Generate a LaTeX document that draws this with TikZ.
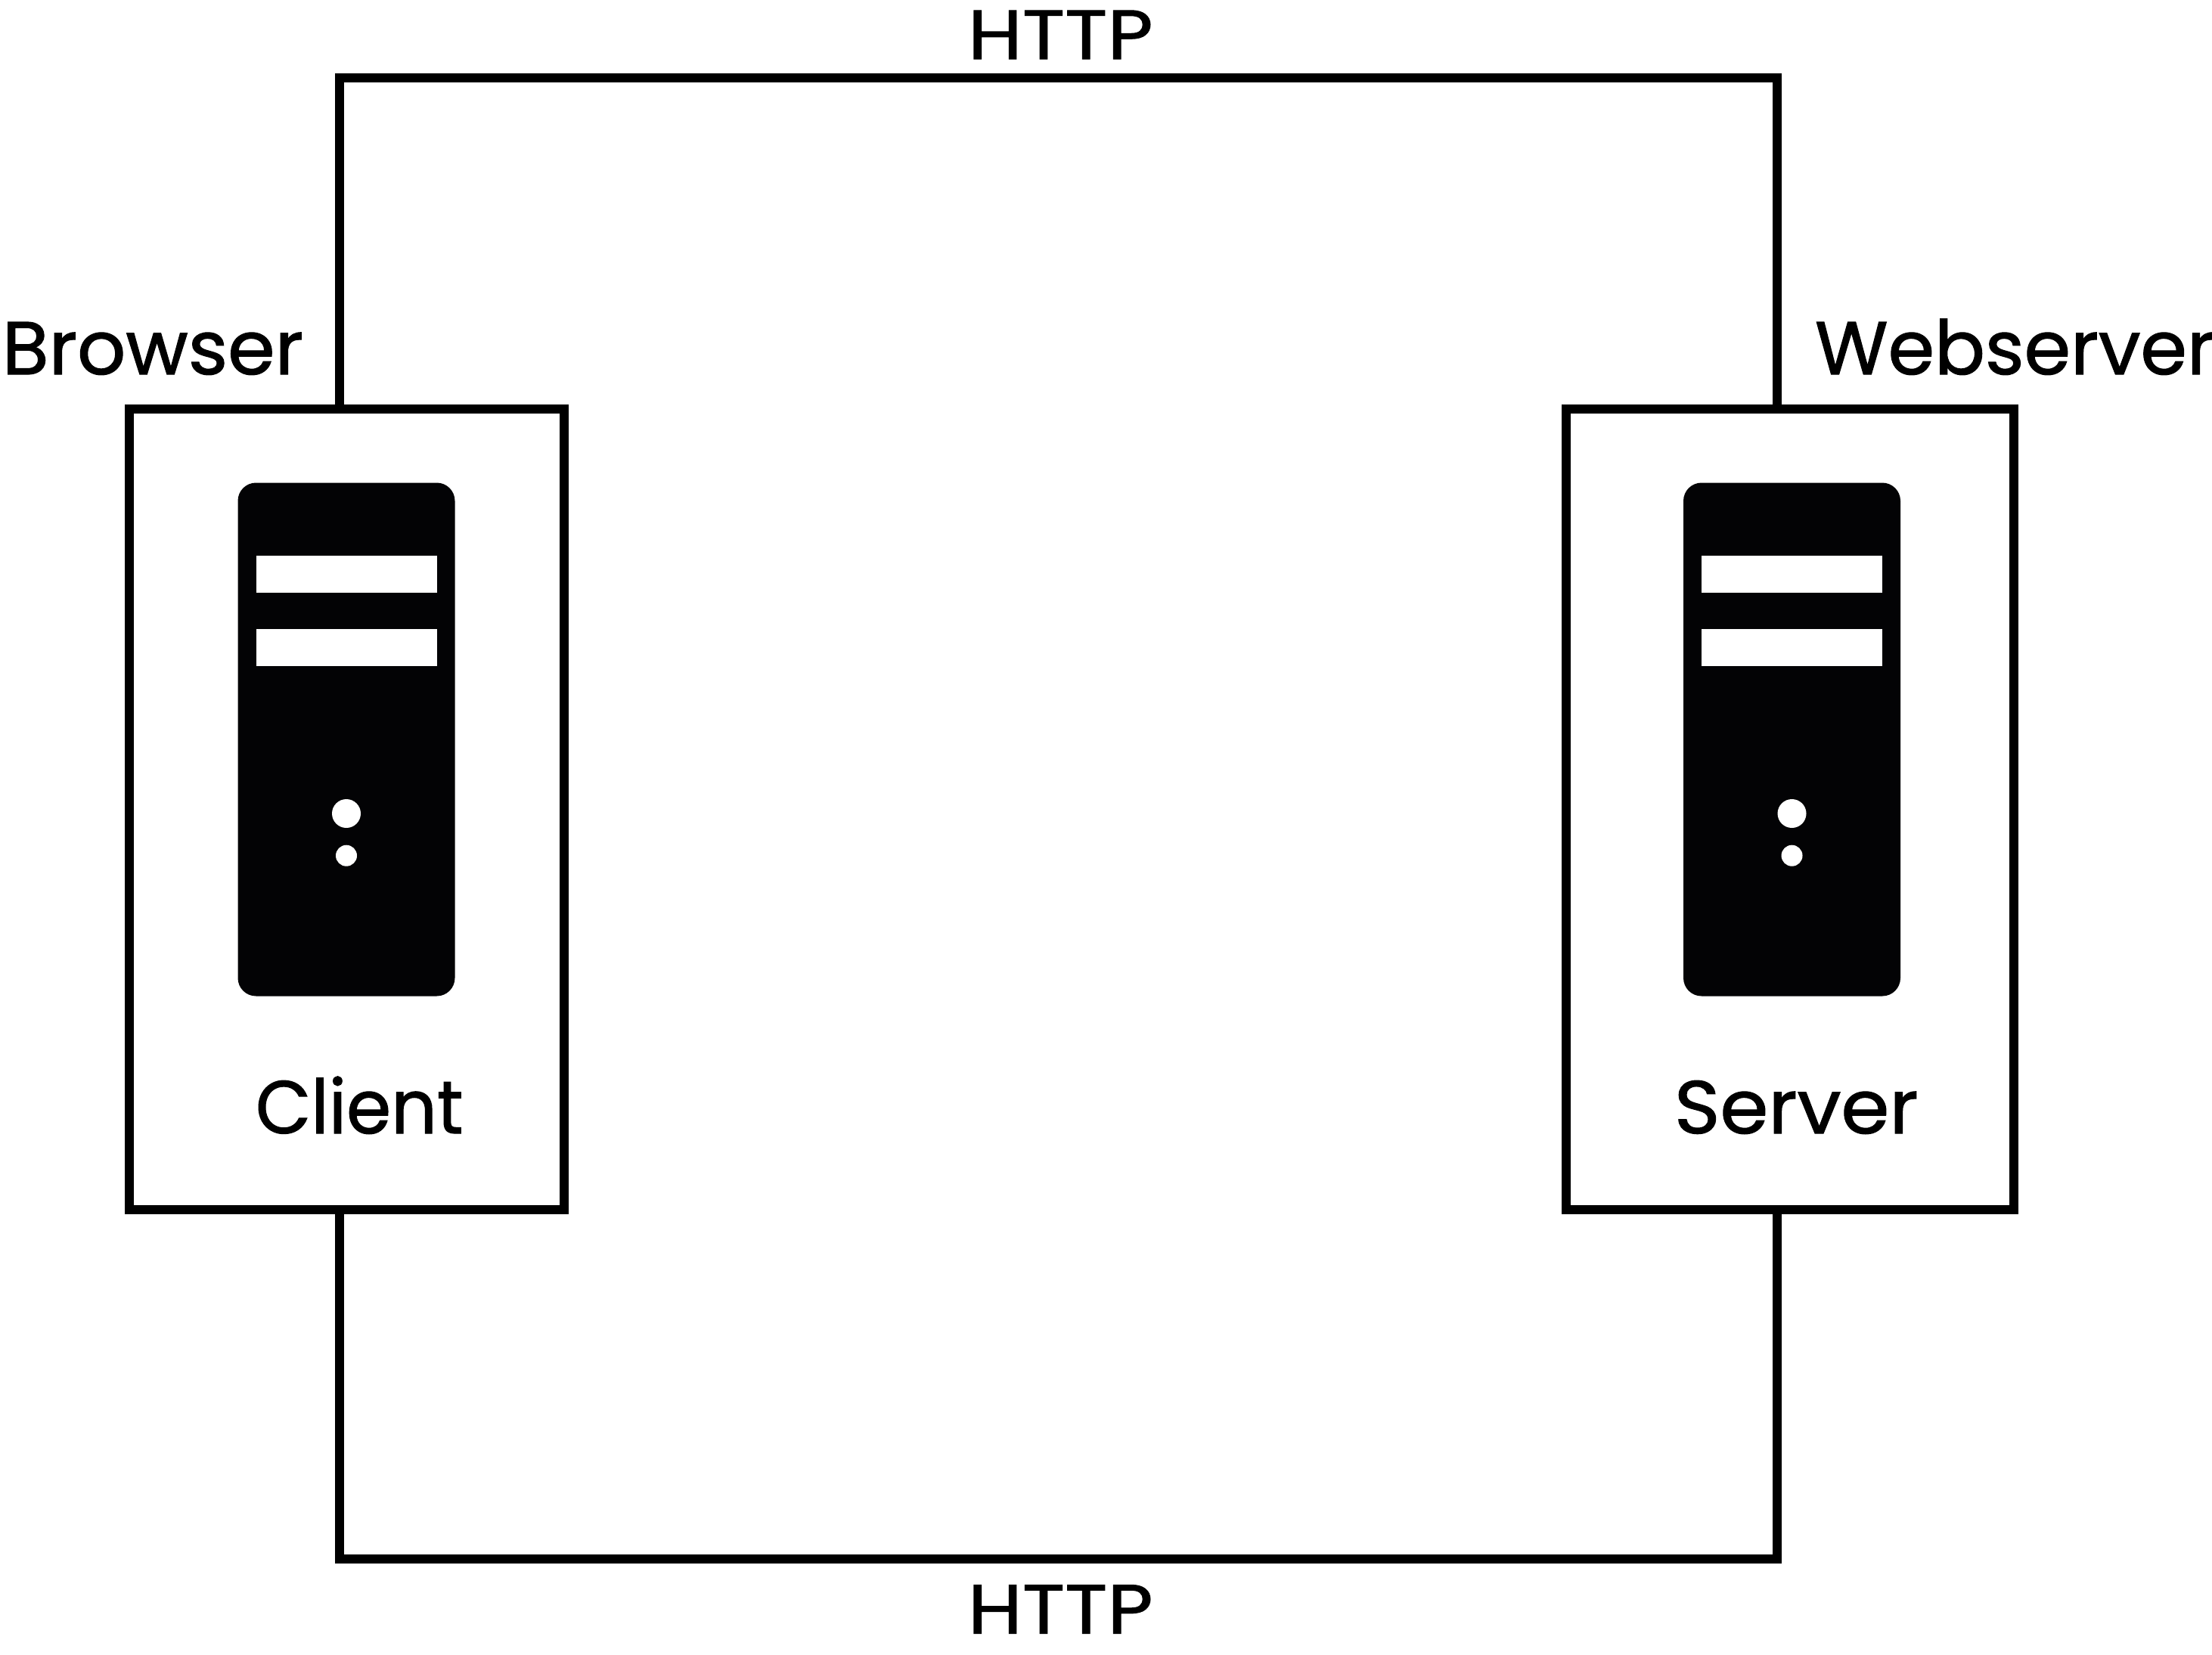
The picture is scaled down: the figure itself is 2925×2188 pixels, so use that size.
\documentclass[tikz,border=0pt]{standalone}
\usepackage{fontspec}
\usepackage{graphicx}
\setmainfont{Poppins}[FakeBold=1.2]
\definecolor{ink}{HTML}{030305}
\newcommand{\lab}[2]{\scalebox{#1}[1]{#2}}
\tikzset{
  wire/.style={line width=12pt,black,line cap=rect},
  hostbox/.style={draw=black,line width=12.5pt,rectangle,inner sep=0pt,outer sep=0pt,minimum width=#1,minimum height=1059pt},
  tower/.style={fill=ink,rectangle,rounded corners=24pt,inner sep=0pt,outer sep=0pt,minimum width=287pt,minimum height=679pt},
  bar/.style={fill=white,rectangle,inner sep=0pt,outer sep=0pt,minimum width=239pt,minimum height=48.5pt},
  bigdot/.style={fill=white,circle,inner sep=0pt,outer sep=0pt,minimum size=38pt},
  smalldot/.style={fill=white,circle,inner sep=0pt,outer sep=0pt,minimum size=28pt},
  txt/.style={inner sep=0pt,outer sep=0pt,anchor=base west,text=black,font=\fontsize{92}{100}\selectfont},
  txtb/.style={inner sep=0pt,outer sep=0pt,anchor=base west,text=black,font=\fontsize{99}{110}\selectfont}
}
\begin{document}
\begin{tikzpicture}[x=1pt,y=-1pt]
\useasboundingbox[fill=white] (0,0) rectangle (2925,2188);
\node[hostbox=575pt] (client) at (458.5,1070.5) {};
\node[hostbox=592pt] (server) at (2367,1070.5) {};
\coordinate (tl) at (449,103);
\coordinate (tr) at (2350,103);
\coordinate (bl) at (449,2062);
\coordinate (br) at (2350,2062);
\draw[wire] (client.north -| tl) -- (tl) -- (tr) -- (server.north -| tr);
\draw[wire] (client.south -| bl) -- (bl) -- (br) -- (server.south -| br);
\node[tower] (t1) at (458,978) {};
\node[bar] (t1a) at (458,759.6) {};
\node[bar] (t1b) at (458,856.5) {};
\node[bigdot] (t1c) at (458,1076) {};
\node[smalldot] (t1d) at (458,1131.7) {};
\node[tower] (t2) at (2369.5,978) {};
\node[bar] (t2a) at (2369.5,759.6) {};
\node[bar] (t2b) at (2369.5,856.5) {};
\node[bigdot] (t2c) at (2369.5,1076) {};
\node[smalldot] (t2d) at (2369.5,1131.7) {};
\node[txt] (http1) at (1280,78) {\lab{1.13}{HTTP}};
\node[txt] (http2) at (1280,2160.5) {\lab{1.13}{HTTP}};
\node[txtb] (browser) at (3,495) {\lab{1.015}{Browser}};
\node[txtb] (webserver) at (2400,495) {\lab{1}{Webserver}};
\node[txtb] (clientl) at (338,1499) {\lab{0.96}{Client}};
\node[txtb] (serverl) at (2214,1499) {\lab{1.04}{Server}};
\end{tikzpicture}
\end{document}
